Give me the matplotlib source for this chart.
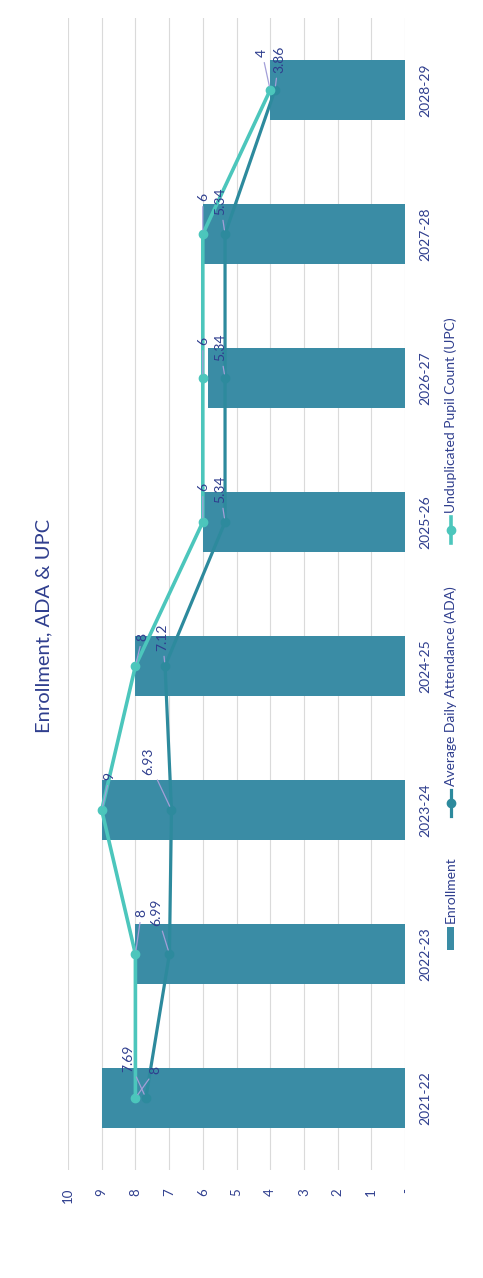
import matplotlib
matplotlib.use("Agg")
import matplotlib.pyplot as plt
from matplotlib.lines import Line2D
from matplotlib.patches import Rectangle

plt.rcParams["font.family"] = ["Lato", "DejaVu Sans"]

# school years and the three series (enrollment as bars, ADA / UPC as lines)
years = ["2021-22", "2022-23", "2023-24", "2024-25",
         "2025-26", "2026-27", "2027-28", "2028-29"]
enrollment = [9, 8, 9, 8, 6, 5.85, 6, 4]
ada = [7.69, 6.99, 6.93, 7.12, 5.34, 5.34, 5.34, 3.86]
upc = [8, 8, 9, 8, 6, 6, 6, 4]
value_ticks = [10, 9, 8, 7, 6, 5, 4, 3, 2, 1, 0]

# data label nudges (pixels) - labels were dragged by hand in the workbook
ada_offsets = [(-18, 40), (-13, 42), (-23, 49), (-3, 29),
               (-5, 33), (-5, 31), (-5, 33), (4, 31)]
upc_offsets = [(20, 28), (6, 41), (8, 34), (7, 29),
               (0, 35), (0, 37), (0, 37), (-8, 37)]

BAR = "#3a8ca5"
ADA_C = "#2d8a9d"
UPC_C = "#4cc6bc"
TXT = "#2f3e8e"
LEADER = "#a39fd8"
GRID = "#dadada"

W, H = 483, 1278


def fx(px):
    return px / W


def fy(py):
    return 1 - py / H


fig = plt.figure(figsize=(W / 100, H / 100), dpi=100)
fig.patch.set_facecolor("white")
ax = fig.add_axes([fx(68), fy(1170), fx(405) - fx(68), fy(18) - fy(1170)])

pos = list(range(len(years)))

# the chart is laid out sideways: values run right-to-left, years bottom-to-top
ax.barh(pos, enrollment, height=0.42, color=BAR, zorder=2)
ax.plot(ada, pos, color=ADA_C, lw=2.3, marker="o", ms=6, zorder=3)
ax.plot(upc, pos, color=UPC_C, lw=2.6, marker="o", ms=6, zorder=4)

ax.set_xlim(10, 0)
ax.set_ylim(-0.5, len(years) - 0.5)

ax.set_xticks(value_ticks)
ax.set_xticklabels([str(v) if v else "-" for v in value_ticks])
ax.tick_params(axis="x", length=0, pad=13, labelsize=9.5,
               labelcolor=TXT, labelrotation=90)

ax.yaxis.tick_right()
ax.set_yticks(pos)
ax.set_yticklabels(years, rotation=90, va="center", ha="left")
ax.tick_params(axis="y", length=0, pad=10, labelsize=10, labelcolor=TXT)

ax.grid(axis="x", color=GRID, lw=0.8, zorder=0)
ax.grid(axis="y", visible=False)
for s in ax.spines.values():
    s.set_visible(False)

# data labels with leader lines
for vals, offs in ((ada, ada_offsets), (upc, upc_offsets)):
    for i, v in enumerate(vals):
        ax.annotate("{:g}".format(v), xy=(v, i), xytext=offs[i],
                    textcoords="offset pixels", rotation=90,
                    ha="center", va="center", fontsize=10, color=TXT,
                    zorder=6,
                    arrowprops=dict(arrowstyle="-", color=LEADER, lw=0.9,
                                    shrinkA=2, shrinkB=3))

# title
fig.text(fx(44), fy(626), "Enrollment, ADA & UPC", rotation=90,
         ha="center", va="center", fontsize=14.5, color=TXT)

# legend, drawn by hand so it can run along the side
fig.add_artist(Rectangle((fx(447), fy(950)), fx(454) - fx(447),
                         fy(927) - fy(950), transform=fig.transFigure,
                         facecolor=BAR, edgecolor="none"))
fig.text(fx(451), fy(923), "Enrollment", rotation=90, ha="center",
         va="bottom", fontsize=10, color=TXT)

fig.add_artist(Line2D([fx(451), fx(451)], [fy(816), fy(790)],
                      transform=fig.transFigure, color=ADA_C, lw=2.3))
fig.add_artist(Line2D([fx(451)], [fy(803)], transform=fig.transFigure,
                      color=ADA_C, marker="o", ms=6))
fig.text(fx(451), fy(786), "Average Daily Attendance (ADA)", rotation=90,
         ha="center", va="bottom", fontsize=10, color=TXT)

fig.add_artist(Line2D([fx(451), fx(451)], [fy(543), fy(517)],
                      transform=fig.transFigure, color=UPC_C, lw=2.6))
fig.add_artist(Line2D([fx(451)], [fy(530)], transform=fig.transFigure,
                      color=UPC_C, marker="o", ms=6))
fig.text(fx(451), fy(513), "Unduplicated Pupil Count (UPC)", rotation=90,
         ha="center", va="bottom", fontsize=10, color=TXT)

fig.savefig("out.png", dpi=100, facecolor="white")
